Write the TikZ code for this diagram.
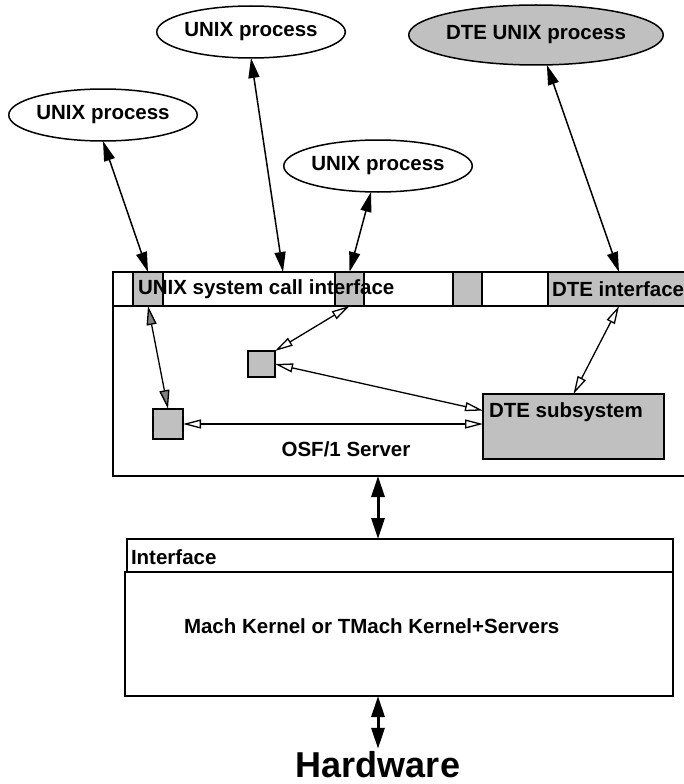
\documentclass[tikz,border=0pt]{standalone}
\usepackage{fontspec}
\setmainfont{Liberation Sans}
\usetikzlibrary{shapes.geometric,arrows.meta,positioning}
\definecolor{boxgray}{RGB}{192,192,192}

\begin{document}
\begin{tikzpicture}[x=1pt,y=-1pt,
    every node/.style={font=\fontsize{20.5}{24}\selectfont\bfseries, inner sep=0pt, outer sep=0pt},
    proc/.style={draw, line width=1.5pt, ellipse, minimum width=182pt, minimum height=52pt},
    box/.style={draw, line width=1.5pt, rectangle, anchor=north west},
    grbox/.style={box, fill=boxgray},
    link/.style={line width=1.5pt, {Triangle[length=20pt,width=11pt]}-{Triangle[length=20pt,width=11pt]}},
    ilink/.style={line width=1.3pt, {Triangle[open,length=18pt,width=9pt]}-{Triangle[open,length=18pt,width=9pt]}},
    glink/.style={line width=1.3pt, {Triangle[fill=gray,length=19pt,width=10pt]}-{Triangle[fill=gray,length=19pt,width=10pt]}},
    biglink/.style={line width=3pt, {Triangle[length=21pt,width=13pt]}-{Triangle[length=21pt,width=13pt]}}]
  \useasboundingbox (0,0) rectangle (684,784);
  \clip (0,0) rectangle (684,784);

  % processes
  \node[proc] (u1) at (103,115) {UNIX process};
  \node[proc] (u2) at (251,32) {UNIX process};
  \node[proc] (u3) at (378,166) {UNIX process};
  \node[proc, fill=boxgray, minimum width=216pt, minimum height=60pt] (u4) at (536,35) {DTE UNIX process};

  % OSF/1 server
  \node[box, minimum width=577pt, minimum height=34pt] (bar) at (113,272) {};
  \node[box, minimum width=577pt, minimum height=170pt] (srv) at (113,306) {};
  \node[grbox, minimum width=30pt, minimum height=34pt] (s1) at (133,272) {};
  \node[grbox, minimum width=29pt, minimum height=34pt] (s2) at (335,272) {};
  \node[grbox, minimum width=29pt, minimum height=34pt] (s3) at (453,272) {};
  \node[grbox, minimum width=142pt, minimum height=34pt] (dif) at (548,272) {};
  \node[anchor=west] (barlbl) at (138,289) {UNIX system call interface};
  \node[anchor=west] (diflbl) at (552,289) {DTE interface};
  \node[grbox, minimum width=27pt, minimum height=26pt] (sA) at (248,351) {};
  \node[grbox, minimum width=30pt, minimum height=30pt] (sB) at (153,409) {};
  \node[grbox, minimum width=181pt, minimum height=65pt] (dss) at (483,394) {};
  \node[anchor=west] (dsslbl) at (489,412) {DTE subsystem};
  \node (srvlbl) at (346,449) {OSF/1 Server};

  % kernel
  \node[box, minimum width=546pt, minimum height=33pt] (kif) at (127,539) {};
  \node[anchor=west] (kiflbl) at (131,557) {Interface};
  \node[box, minimum width=548pt, minimum height=124pt] (kern) at (125,572) {};
  \node[anchor=west] (kernlbl) at (184,626) {Mach Kernel or TMach Kernel+Servers};
  \node[font=\fontsize{36}{40}\selectfont\bfseries, inner sep=3pt] (hw) at (378,765) {Hardware};

  \coordinate (c2) at (283,272);
  \draw[link] (u1.south) -- (s1.north);
  \draw[link] (u2.south) -- (c2);
  \draw[link] (u3.255) -- (s2.north);
  \draw[link] (u4.290) -- (dif.north);
  \draw[glink] (s1.south) -- (sB.north);
  \draw[ilink] (s2.south) -- (sA.north east);
  \draw[ilink] (sA.east) -- (dss.170);
  \draw[ilink] (sB.east) -- (sB.east -| dss.west);
  \draw[ilink] (dif.south) -- (dss.north);
  \draw[biglink] (srv.south -| hw) -- (kif.north -| hw);
  \draw[biglink] (kern.south -| hw) -- (hw.north);
\end{tikzpicture}
\end{document}
